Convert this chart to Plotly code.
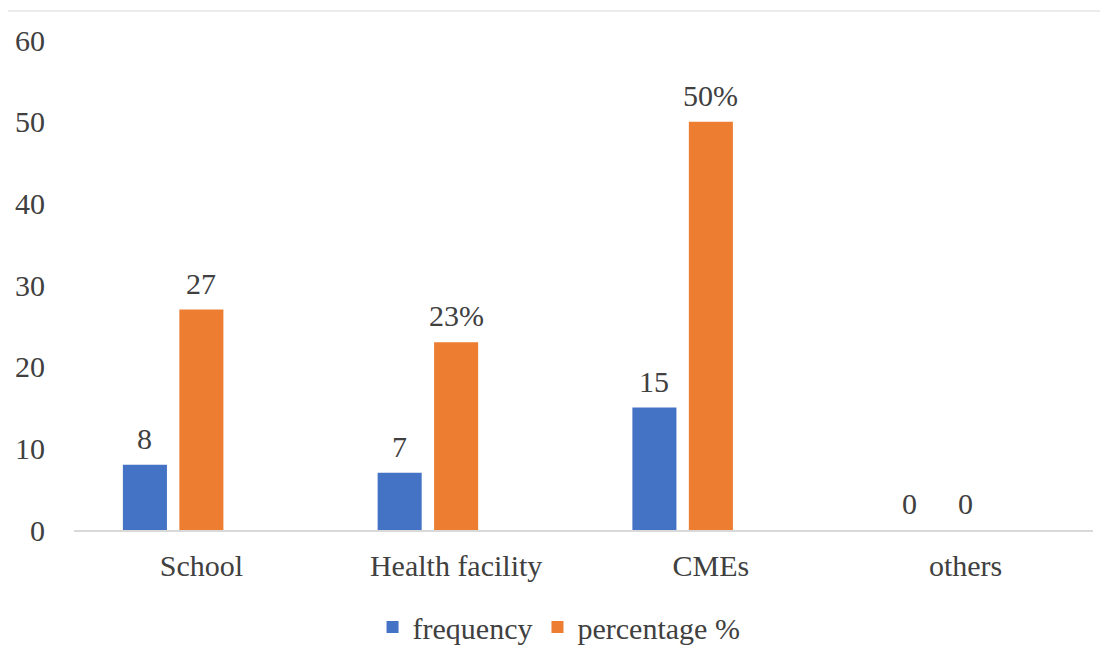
import plotly.graph_objects as go

categories = ["School", "Health facility", "CMEs", "others"]
frequency = [8, 7, 15, 0]
percentage = [27, 23, 50, 0]
frequency_labels = ["8", "7", "15", "0"]
percentage_labels = ["27", "23%", "50%", "0"]
y_ticks = [0, 10, 20, 30, 40, 50, 60]

FONT = "Liberation Serif, Times New Roman, serif"
TXT = "#404040"
FS = 30

fig = go.Figure()
fig.add_trace(go.Bar(
    x=categories, y=frequency, name="frequency",
    marker=dict(color="#4472C4", line=dict(width=0)),
))
fig.add_trace(go.Bar(
    x=categories, y=percentage, name="percentage %",
    marker=dict(color="#ED7D31", line=dict(width=0)),
))
# empty third series (keeps the Excel-style group offset)
fig.add_trace(go.Bar(
    x=categories, y=[None] * len(categories), name="",
    showlegend=False, marker=dict(color="rgba(0,0,0,0)"),
    hoverinfo="skip",
))

# data labels above bars
for vals, labels, dx in ((frequency, frequency_labels, -56.5),
                         (percentage, percentage_labels, 0)):
    for c, v, t in zip(categories, vals, labels):
        fig.add_annotation(x=c, y=v, text=t, showarrow=False,
                           xanchor="center", yanchor="bottom",
                           xshift=dx, yshift=8,
                           font=dict(family=FONT, size=FS, color=TXT))

fig.update_layout(
    width=1100, height=651,
    paper_bgcolor="white", plot_bgcolor="white",
    margin=dict(l=66, r=15, t=32, b=129, autoexpand=False),
    barmode="group", bargap=0.335, bargroupgap=0.22,
    font=dict(family=FONT, size=FS, color=TXT),
    legend=dict(
        orientation="h", x=0.476, xanchor="center", y=-0.198, yanchor="middle",
        font=dict(family=FONT, size=FS, color=TXT),
        traceorder="normal", itemwidth=30,
    ),
    showlegend=True,
)
fig.update_xaxes(
    showgrid=False, showline=True, linecolor="#d9d9d9", linewidth=2,
    ticks="", tickfont=dict(family=FONT, size=FS, color=TXT),
    ticklabelstandoff=8, automargin=False,
)
fig.update_yaxes(
    range=[0, 60], tickvals=y_ticks, showgrid=False, zeroline=False,
    showline=False, ticks="", tickfont=dict(family=FONT, size=FS, color=TXT),
    ticklabelstandoff=28, automargin=False,
)
fig.add_shape(type="line", xref="paper", yref="paper",
              x0=-0.068, x1=1.02, y0=1.0 + 29 / 490, y1=1.0 + 29 / 490,
              line=dict(color="#ebebeb", width=2))

fig.write_html("out.html")
